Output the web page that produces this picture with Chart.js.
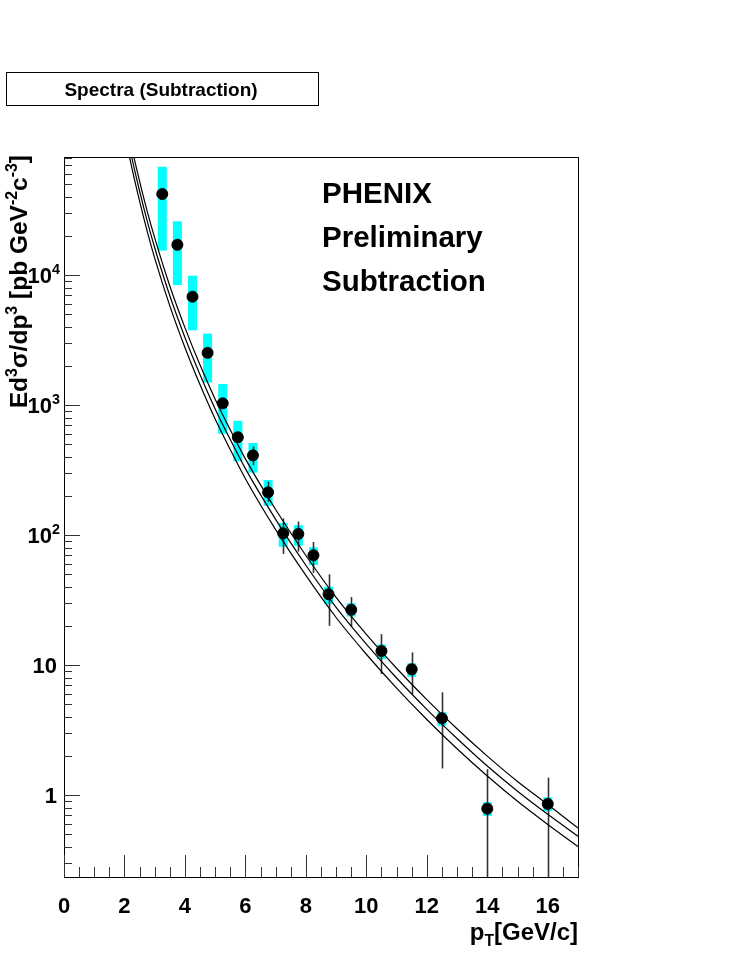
<!DOCTYPE html>
<html>
<head>
<meta charset="utf-8">
<script src="https://cdn.jsdelivr.net/npm/chart.js@4.4.1/dist/chart.umd.min.js"></script>
<style>
  html, body { margin: 0; padding: 0; background: #fff; }
  canvas { display: block; }
</style>
</head>
<body>
<canvas id="spectra" width="747" height="967"></canvas>
<script>
// measured points (pT, yield) with stat error bars and sys boxes
const ptX = [3.25, 3.75, 4.25, 4.75, 5.25, 5.75, 6.25, 6.75, 7.25, 7.75, 8.25, 8.75, 9.5, 10.5, 11.5, 12.5, 14, 16];
const yields = [42000, 17100, 6810, 2520, 1030, 565, 410, 213, 103, 102, 69.8, 35, 26.6, 12.8, 9.27, 3.89, 0.785, 0.853];
const statLow = [40000, 16300, 6450, 2380, 950, 510, 345, 180, 71.5, 74.5, 51, 20, 19.7, 8.53, 5.98, 1.6, 0.05, 0.05];
const statHigh = [44000, 17900, 7150, 2660, 1120, 610, 480, 257, 134, 127, 88.3, 49.9, 33.3, 17.3, 12.5, 6.17, 1.58, 1.36];
const sysLow = [15400, 8380, 3760, 1490, 601, 369, 302, 168, 81.3, 82.8, 58.8, 29.4, 23.6, 11.1, 8.13, 3.41, 0.69, 0.75];
const sysHigh = [68000, 25900, 9880, 3540, 1450, 757, 511, 265, 124, 119, 80.4, 40, 29.9, 14.4, 10.3, 4.33, 0.883, 0.96];

// theory curves (three scale choices)
const curveX = [2.0, 2.25, 2.5, 2.75, 3.0, 3.5, 4.0, 4.5, 5, 5.5, 6, 7, 8, 9, 10, 11, 12, 13, 14, 15, 16, 17];
const curveUp = [177000, 93600, 52700, 31000, 19300, 8230, 3940, 2030, 1110, 644, 385, 157, 69.6, 33.1, 17.2, 9.44, 5.42, 3.23, 1.99, 1.27, 0.845, 0.557];
const curveMid = [149000, 78700, 44300, 26100, 16200, 6920, 3310, 1710, 933, 542, 324, 132, 58.5, 27.8, 14.5, 7.94, 4.56, 2.72, 1.67, 1.07, 0.71, 0.481];
const curveLow = [124600, 65800, 37000, 21800, 13500, 5790, 2770, 1430, 780, 453, 271, 110, 48.9, 23.2, 12.1, 6.64, 3.81, 2.27, 1.40, 0.895, 0.594, 0.402];

// axes
const xMin = 0, xMax = 17;
const yMin = 0.234, yMax = 80900;
const xTickValues = [0, 2, 4, 6, 8, 10, 12, 14, 16];
const yTickValues = [1, 10, 100, 1000, 10000];
const yTickBase = ['1', '10', '10', '10', '10'];
const yTickSup = ['', '', '2', '3', '4'];

const FONT = '"Liberation Sans", Arial, Helvetica, sans-serif';

function pts(xs, ys) {
  return xs.map((x, i) => ({ x: x, y: ys[i] }));
}

function richWidth(ctx, parts, size) {
  let w = 0;
  parts.forEach(p => {
    const s = p.sup || p.sub ? size * 0.65 : size;
    ctx.font = 'bold ' + s + 'px ' + FONT;
    w += ctx.measureText(p.t).width;
  });
  return w;
}

function drawRich(ctx, parts, x, y, size, align) {
  const w = richWidth(ctx, parts, size);
  let cx = align === 'right' ? x - w : align === 'center' ? x - w / 2 : x;
  ctx.textAlign = 'left';
  ctx.textBaseline = 'alphabetic';
  parts.forEach(p => {
    const s = p.sup || p.sub ? size * 0.65 : size;
    ctx.font = 'bold ' + s + 'px ' + FONT;
    let dy = 0;
    if (p.sup) dy = -size * 0.42;
    if (p.sub) dy = size * 0.25;
    ctx.fillText(p.t, cx, y + dy);
    cx += ctx.measureText(p.t).width;
  });
}

const rootStyle = {
  id: 'rootStyle',
  beforeDatasetsDraw(chart) {
    const ctx = chart.ctx, a = chart.chartArea;
    const xs = chart.scales.x, ys = chart.scales.y;
    ctx.save();
    ctx.beginPath();
    ctx.rect(a.left, a.top, a.right - a.left, a.bottom - a.top);
    ctx.clip();
    // systematic boxes
    ctx.fillStyle = '#00ffff';
    ptX.forEach((x, i) => {
      const px = xs.getPixelForValue(x);
      const y1 = ys.getPixelForValue(sysHigh[i]);
      const y2 = ys.getPixelForValue(sysLow[i]);
      ctx.fillRect(px - 4.5, y1, 9, y2 - y1);
    });
    // statistical bars
    ctx.strokeStyle = '#333';
    ctx.lineWidth = 1.6;
    ptX.forEach((x, i) => {
      const px = Math.round(xs.getPixelForValue(x)) + 0.5;
      ctx.beginPath();
      ctx.moveTo(px, ys.getPixelForValue(statHigh[i]));
      ctx.lineTo(px, ys.getPixelForValue(statLow[i]));
      ctx.stroke();
    });
    ctx.restore();
  },
  afterDraw(chart) {
    const ctx = chart.ctx, a = chart.chartArea;
    const xs = chart.scales.x, ys = chart.scales.y;
    ctx.save();
    ctx.fillStyle = '#000';
    ctx.strokeStyle = '#000';
    // frame
    ctx.lineWidth = 1;
    ctx.strokeRect(Math.round(a.left) + 0.5, Math.round(a.top) + 0.5,
      Math.round(a.right - a.left), Math.round(a.bottom - a.top));

    // x ticks, inside the frame
    ctx.strokeStyle = '#333';
    for (let v = xMin; v <= xMax + 1e-9; v += 0.5) {
      const px = Math.round(xs.getPixelForValue(v)) + 0.5;
      const len = Math.abs(v % 2) < 1e-9 ? 22 : 10;
      ctx.beginPath();
      ctx.moveTo(px, a.bottom);
      ctx.lineTo(px, a.bottom - len);
      ctx.stroke();
    }
    // y ticks, log decades
    for (let d = -1; d <= 4; d++) {
      for (let m = 1; m <= 9; m++) {
        const v = m * Math.pow(10, d);
        if (v < yMin || v > yMax) continue;
        const py = Math.round(ys.getPixelForValue(v)) + 0.5;
        const len = m === 1 ? 16 : 8;
        ctx.beginPath();
        ctx.moveTo(a.left, py);
        ctx.lineTo(a.left + len, py);
        ctx.stroke();
      }
    }

    // x tick labels
    ctx.fillStyle = '#000';
    xTickValues.forEach(v => {
      drawRich(ctx, [{ t: String(v) }], xs.getPixelForValue(v), 913, 22, 'center');
    });
    // y tick labels
    yTickValues.forEach((v, i) => {
      const py = ys.getPixelForValue(v) + 8;
      const parts = [{ t: yTickBase[i] }];
      if (yTickSup[i]) parts.push({ t: yTickSup[i], sup: true });
      drawRich(ctx, parts, yTickSup[i] ? 60 : 57, py, 22, 'right');
    });

    // x title
    drawRich(ctx, [{ t: 'p' }, { t: 'T', sub: true }, { t: '[GeV/c]' }], a.right, 940, 24, 'right');

    // y title, rotated
    ctx.save();
    ctx.translate(27, a.top - 2);
    ctx.rotate(-Math.PI / 2);
    drawRich(ctx, [
      { t: 'Ed' }, { t: '3', sup: true }, { t: 'σ/dp' }, { t: '3', sup: true },
      { t: ' [pb GeV' }, { t: '-2', sup: true }, { t: 'c' }, { t: '-3', sup: true }, { t: ']' }
    ], 0, 0, 24.5, 'right');
    ctx.restore();

    // labels inside the frame
    drawRich(ctx, [{ t: 'PHENIX' }], 322, 203, 29.5, 'left');
    drawRich(ctx, [{ t: 'Preliminary' }], 322, 247, 29.5, 'left');
    drawRich(ctx, [{ t: 'Subtraction' }], 322, 291, 29.5, 'left');

    // title box
    ctx.lineWidth = 1;
    ctx.strokeStyle = '#000';
    ctx.strokeRect(6.5, 72.5, 312, 33);
    drawRich(ctx, [{ t: 'Spectra (Subtraction)' }], 161, 96, 19, 'center');
    ctx.restore();
  }
};

const curveStyle = {
  type: 'line',
  pointRadius: 0,
  borderColor: '#000',
  borderWidth: 1.2,
  fill: false,
  cubicInterpolationMode: 'monotone'
};

new Chart(document.getElementById('spectra'), {
  type: 'scatter',
  data: {
    datasets: [
      {
        label: 'Subtraction',
        data: pts(ptX, yields),
        pointRadius: 5.5,
        pointBackgroundColor: '#000',
        pointBorderColor: '#000',
        showLine: false
      },
      Object.assign({ label: 'up', data: pts(curveX, curveUp) }, curveStyle),
      Object.assign({ label: 'mid', data: pts(curveX, curveMid) }, curveStyle),
      Object.assign({ label: 'low', data: pts(curveX, curveLow) }, curveStyle)
    ]
  },
  options: {
    responsive: false,
    animation: false,
    layout: { padding: { left: 64, top: 157, right: 169, bottom: 90 } },
    plugins: { legend: { display: false }, tooltip: { enabled: false } },
    scales: {
      x: { type: 'linear', min: xMin, max: xMax, display: false },
      y: { type: 'logarithmic', min: yMin, max: yMax, display: false }
    }
  },
  plugins: [rootStyle]
});
</script>
</body>
</html>
